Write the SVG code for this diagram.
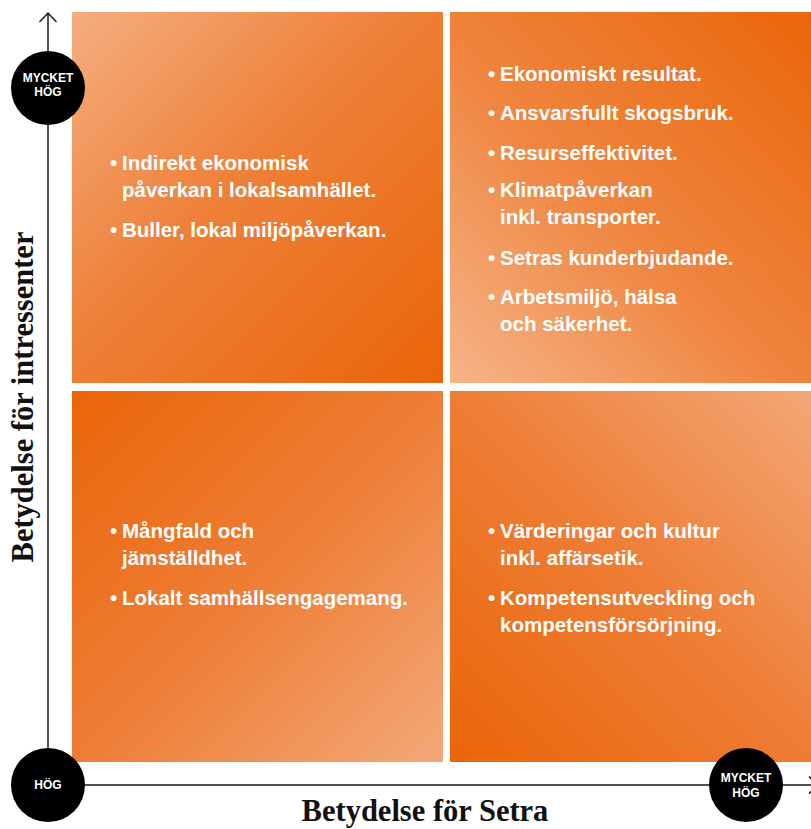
<svg xmlns="http://www.w3.org/2000/svg" width="811" height="829" viewBox="0 0 811 829">
  <style>
    .item { font-family: "Liberation Sans", Arial, sans-serif; font-weight: bold; font-size: 20.5px; fill: #ffffff; }
    .badge { font-family: "Liberation Sans", Arial, sans-serif; font-weight: bold; font-size: 12px; fill: #ffffff; text-anchor: middle; }
    .axis-title { font-family: "Liberation Serif", "Times New Roman", serif; font-weight: bold; font-size: 30.5px; fill: #111111; text-anchor: middle; }
    .axis { stroke: #1a1a1a; stroke-width: 1.5; fill: none; }
  </style>
  <defs>
    <linearGradient id="gTL" x1="0" y1="0" x2="1" y2="1">
      <stop offset="0" stop-color="#f4ae80"/>
      <stop offset="0.45" stop-color="#ee8038"/>
      <stop offset="1" stop-color="#ea6508"/>
    </linearGradient>
    <linearGradient id="gTR" x1="0" y1="1" x2="1" y2="0">
      <stop offset="0" stop-color="#f5b488"/>
      <stop offset="0.45" stop-color="#ef853f"/>
      <stop offset="1" stop-color="#ea6508"/>
    </linearGradient>
    <linearGradient id="gBL" x1="1" y1="1" x2="0" y2="0">
      <stop offset="0" stop-color="#f3a878"/>
      <stop offset="0.5" stop-color="#ee7d35"/>
      <stop offset="1" stop-color="#ea6508"/>
    </linearGradient>
    <linearGradient id="gBR" x1="1" y1="0" x2="0" y2="1">
      <stop offset="0" stop-color="#f3a878"/>
      <stop offset="0.5" stop-color="#ee7d35"/>
      <stop offset="1" stop-color="#ea6508"/>
    </linearGradient>
  </defs>

  <g id="quadrant-top-left">
    <rect x="72" y="12" width="371" height="371" fill="url(#gTL)"/>
    <text class="item"><tspan x="110" y="170">•</tspan><tspan x="122" y="170">Indirekt ekonomisk</tspan><tspan x="122" y="197">påverkan i lokalsamhället.</tspan></text>
    <text class="item"><tspan x="110" y="237">•</tspan><tspan x="122" y="237">Buller, lokal miljöpåverkan.</tspan></text>
  </g>

  <g id="quadrant-top-right">
    <rect x="450" y="12" width="371" height="371" fill="url(#gTR)"/>
    <text class="item"><tspan x="488" y="81">•</tspan><tspan x="500" y="81">Ekonomiskt resultat.</tspan></text>
    <text class="item"><tspan x="488" y="120">•</tspan><tspan x="500" y="120">Ansvarsfullt skogsbruk.</tspan></text>
    <text class="item"><tspan x="488" y="160">•</tspan><tspan x="500" y="160">Resurseffektivitet.</tspan></text>
    <text class="item"><tspan x="488" y="197">•</tspan><tspan x="500" y="197">Klimatpåverkan</tspan><tspan x="500" y="224">inkl. transporter.</tspan></text>
    <text class="item"><tspan x="488" y="265">•</tspan><tspan x="500" y="265">Setras kunderbjudande.</tspan></text>
    <text class="item"><tspan x="488" y="304">•</tspan><tspan x="500" y="304">Arbetsmiljö, hälsa</tspan><tspan x="500" y="331">och säkerhet.</tspan></text>
  </g>

  <g id="quadrant-bottom-left">
    <rect x="72" y="391" width="371" height="371" fill="url(#gBL)"/>
    <text class="item"><tspan x="110" y="538">•</tspan><tspan x="122" y="538">Mångfald och</tspan><tspan x="122" y="565">jämställdhet.</tspan></text>
    <text class="item"><tspan x="110" y="605">•</tspan><tspan x="122" y="605">Lokalt samhällsengagemang.</tspan></text>
  </g>

  <g id="quadrant-bottom-right">
    <rect x="450" y="391" width="371" height="371" fill="url(#gBR)"/>
    <text class="item"><tspan x="488" y="538">•</tspan><tspan x="500" y="538">Värderingar och kultur</tspan><tspan x="500" y="565">inkl. affärsetik.</tspan></text>
    <text class="item"><tspan x="488" y="605">•</tspan><tspan x="500" y="605">Kompetensutveckling och</tspan><tspan x="500" y="632">kompetensförsörjning.</tspan></text>
  </g>

  <g id="connectors">
    <line class="axis" x1="48" y1="13" x2="48" y2="785"/>
    <polyline class="axis" points="39.5,22 48,13 56.5,22"/>
    <line class="axis" x1="48" y1="785" x2="818" y2="785"/>
    <polyline class="axis" points="809,776.5 818,785 809,793.5"/>
  </g>

  <g id="badge-y-high">
    <circle cx="48" cy="88" r="37" fill="#000000"/>
    <text class="badge" x="48" y="82">MYCKET</text>
    <text class="badge" x="48" y="96">HÖG</text>
  </g>

  <g id="badge-origin">
    <circle cx="48" cy="785" r="37" fill="#000000"/>
    <text class="badge" x="48" y="789">HÖG</text>
  </g>

  <g id="badge-x-high">
    <circle cx="746" cy="785" r="37" fill="#000000"/>
    <text class="badge" x="746" y="782">MYCKET</text>
    <text class="badge" x="746" y="797">HÖG</text>
  </g>

  <g id="axis-labels">
    <text class="axis-title" x="425" y="821">Betydelse för Setra</text>
    <text class="axis-title" transform="translate(33,397) rotate(-90)">Betydelse för intressenter</text>
  </g>
</svg>
